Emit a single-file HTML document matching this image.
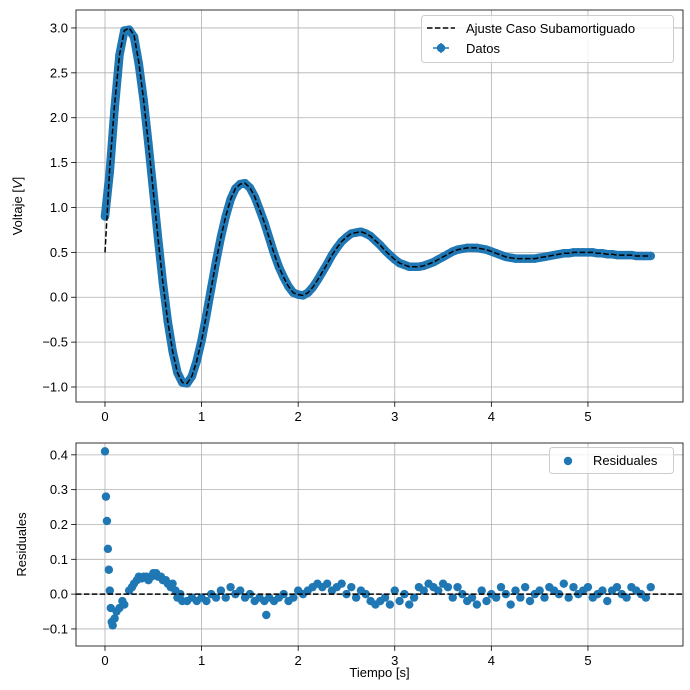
<!DOCTYPE html>
<html><head><meta charset="utf-8"><style>
html,body{margin:0;padding:0;background:#fff;}
svg{display:block;font-family:"Liberation Sans","DejaVu Sans",sans-serif;}
</style></head><body>
<svg id="chart" width="690" height="690" viewBox="0 0 690 690" xmlns="http://www.w3.org/2000/svg">
<g id="topPanel"></g>
<g id="botPanel"></g>
</svg>
<script>
// top panel data: time step 0.05 s
const tStep = 0.05;
const dataV = [0.90,1.40,2.10,2.70,2.97,2.98,2.90,2.60,2.20,1.71,1.18,0.65,0.16,-0.27,-0.60,-0.84,-0.95,-0.96,-0.88,-0.71,-0.48,-0.20,0.10,0.40,0.67,0.90,1.09,1.21,1.26,1.27,1.22,1.12,0.98,0.83,0.66,0.49,0.34,0.22,0.12,0.05,0.03,0.02,0.05,0.11,0.19,0.28,0.37,0.47,0.55,0.62,0.67,0.71,0.72,0.73,0.71,0.68,0.63,0.58,0.52,0.47,0.42,0.38,0.36,0.34,0.34,0.34,0.35,0.37,0.39,0.42,0.45,0.48,0.51,0.53,0.54,0.55,0.55,0.55,0.54,0.53,0.51,0.49,0.47,0.45,0.44,0.43,0.43,0.43,0.43,0.43,0.44,0.45,0.46,0.47,0.48,0.49,0.49,0.50,0.50,0.50,0.50,0.50,0.49,0.49,0.48,0.48,0.47,0.47,0.47,0.47,0.46,0.46,0.46,0.46];
const fitV = [0.50,1.45,2.15,2.70,2.97,3.00,2.92,2.62,2.20,1.71,1.18,0.65,0.16,-0.27,-0.60,-0.84,-0.95,-0.96,-0.88,-0.71,-0.48,-0.20,0.10,0.40,0.67,0.90,1.09,1.21,1.26,1.27,1.22,1.12,0.98,0.83,0.66,0.49,0.34,0.22,0.12,0.05,0.03,0.02,0.05,0.11,0.19,0.28,0.37,0.47,0.55,0.62,0.67,0.71,0.72,0.73,0.71,0.68,0.63,0.58,0.52,0.47,0.42,0.38,0.36,0.34,0.34,0.34,0.35,0.37,0.39,0.42,0.45,0.48,0.51,0.53,0.54,0.55,0.55,0.55,0.54,0.53,0.51,0.49,0.47,0.45,0.44,0.43,0.43,0.43,0.43,0.43,0.44,0.45,0.46,0.47,0.48,0.49,0.49,0.50,0.50,0.50,0.50,0.50,0.49,0.49,0.48,0.48,0.47,0.47,0.47,0.47,0.46,0.46,0.46,0.46];
// residuals
const resT = [0,0.01,0.02,0.03,0.04,0.05,0.06,0.07,0.08,0.10,0.12,0.15,0.18,0.20,0.25,0.28,0.30,0.33,0.35,0.38,0.40,0.43,0.45,0.48,0.50,0.53,0.55,0.58,0.60,0.63,0.65,0.68,0.70,0.73,0.75,0.78,0.80,0.85,0.90,0.95,1.00,1.05,1.10,1.15,1.20,1.25,1.30,1.35,1.40,1.45,1.50,1.55,1.60,1.65,1.67,1.70,1.75,1.80,1.85,1.90,1.95,2.00,2.05,2.10,2.15,2.20,2.25,2.30,2.35,2.40,2.45,2.50,2.55,2.60,2.65,2.70,2.75,2.80,2.85,2.90,2.95,3.00,3.05,3.10,3.15,3.20,3.25,3.30,3.35,3.40,3.45,3.50,3.55,3.60,3.65,3.70,3.75,3.80,3.85,3.90,3.95,4.00,4.05,4.10,4.15,4.20,4.25,4.30,4.35,4.40,4.45,4.50,4.55,4.60,4.65,4.70,4.75,4.80,4.85,4.90,4.95,5.00,5.05,5.10,5.15,5.20,5.25,5.30,5.35,5.40,5.45,5.50,5.55,5.60,5.65];
const resV = [0.41,0.28,0.21,0.13,0.07,0.01,-0.04,-0.08,-0.09,-0.07,-0.05,-0.04,-0.02,-0.03,0.01,0.02,0.03,0.04,0.05,0.045,0.05,0.05,0.04,0.05,0.06,0.06,0.05,0.05,0.04,0.04,0.03,0.02,0.03,0.01,-0.01,0.0,-0.02,-0.02,-0.01,-0.02,-0.01,-0.02,0.00,-0.01,0.01,-0.01,0.02,0.00,0.01,-0.01,0.00,-0.02,-0.01,-0.02,-0.06,-0.01,-0.02,-0.01,0.00,-0.02,-0.01,0.01,0.00,0.01,0.02,0.03,0.02,0.03,0.01,0.02,0.03,0.00,0.02,-0.01,0.01,0.00,-0.02,-0.03,-0.02,-0.01,-0.03,0.01,-0.02,0.00,-0.03,-0.01,0.02,0.01,0.03,0.02,0.01,0.03,0.02,-0.01,0.02,0.00,-0.02,-0.01,-0.03,0.01,-0.02,0.00,-0.01,0.02,0.00,-0.03,0.01,-0.01,0.02,-0.02,0.00,0.01,-0.01,0.02,0.01,0.00,0.03,-0.01,0.02,0.00,0.01,0.02,-0.01,0.00,0.01,-0.02,0.01,0.02,0.00,-0.01,0.02,0.01,0.00,-0.01,0.02,-0.02];
const xTicks = [0,1,2,3,4,5];
const yTopTicks = [-1.0,-0.5,0.0,0.5,1.0,1.5,2.0,2.5,3.0];
const yBotTicks = [-0.1,0.0,0.1,0.2,0.3,0.4];

const NS = "http://www.w3.org/2000/svg";
const X0 = 76, X1 = 683, XMIN = -0.30, XMAX = 5.984;
const sx = v => X0 + (v - XMIN) / (XMAX - XMIN) * (X1 - X0);
const PT = {y0:10, y1:402, min:-1.167, max:3.2};
const PB = {y0:443, y1:646, min:-0.149, max:0.434};
const sy = (p, v) => p.y1 - (v - p.min) / (p.max - p.min) * (p.y1 - p.y0);
const fmtTick = v => v.toFixed(1).replace("-", "\u2212");
function mk(tag, attrs, parent, text){
  const e = document.createElementNS(NS, tag);
  for (const k in attrs) e.setAttribute(k, attrs[k]);
  if (text !== undefined) e.textContent = text;
  parent.appendChild(e); return e;
}
const BLUE = "#1f77b4";

function axes(g, p, yTicks, ylabelX, ylabelHTML){
  const bg = mk("rect", {x:X0, y:p.y0, width:X1-X0, height:p.y1-p.y0, fill:"#fff"}, g);
  
  
  xTicks.forEach(v => {
    const x = sx(v);
    const gl = mk("line", {x1:x, x2:x, y1:p.y0, y2:p.y1, stroke:"#b0b0b0", "stroke-width":0.8}, g);
    
    
    mk("line", {x1:x, x2:x, y1:p.y1, y2:p.y1+4.9, stroke:"#000", "stroke-width":0.8}, g);
    const t = mk("text", {x:x, y:p.y1+19, "text-anchor":"middle", "font-size":13}, g, String(v));
    
    
  });
  yTicks.forEach(v => {
    const y = sy(p, v);
    const gl = mk("line", {x1:X0, x2:X1, y1:y, y2:y, stroke:"#b0b0b0", "stroke-width":0.8}, g);
    
    
    mk("line", {x1:X0-4.9, x2:X0, y1:y, y2:y, stroke:"#000", "stroke-width":0.8}, g);
    const t = mk("text", {x:X0-8, y:y+4.5, "text-anchor":"end", "font-size":13}, g, fmtTick(v));
    
    
  });
  const yl = mk("text", {x:0, y:0, "text-anchor":"middle", "font-size":13, transform:`translate(${ylabelX},${(p.y0+p.y1)/2}) rotate(-90)`}, g);
  yl.innerHTML = ylabelHTML;
  
  
}
function frame(g, p){
  const f = mk("rect", {x:X0, y:p.y0, width:X1-X0, height:p.y1-p.y0, fill:"none", stroke:"#000", "stroke-width":0.8}, g);
  
  
}

// ----- top panel -----
const topG = document.getElementById("topPanel");
axes(topG, PT, yTopTicks, 22, 'Voltaje [<tspan font-style="italic">V</tspan>]');
const bandPts = dataV.map((v,i) => sx(i*tStep).toFixed(1)+","+sy(PT,v).toFixed(1)).join(" ");
const band = mk("polyline", {points:bandPts, fill:"none", stroke:BLUE, "stroke-width":8.5, "stroke-linejoin":"round", "stroke-linecap":"round"}, topG);


dataV.forEach((v,i) => {
  const c = mk("circle", {cx:sx(i*tStep), cy:sy(PT,v), r:4.2, fill:BLUE}, topG);
  
  
});
const fitPts = fitV.map((v,i) => sx(i*tStep).toFixed(1)+","+sy(PT,v).toFixed(1)).join(" ");
const fit = mk("polyline", {points:fitPts, fill:"none", stroke:"#000", "stroke-width":1.5, "stroke-dasharray":"5.5,2.4"}, topG);


frame(topG, PT);
const lg = mk("g", {}, topG);


mk("rect", {x:421.5, y:15.5, width:252, height:47, rx:3, fill:"#fff", "fill-opacity":0.8, stroke:"#ccc", "stroke-width":1}, lg);
mk("line", {x1:427, x2:455, y1:28, y2:28, stroke:"#000", "stroke-width":1.5, "stroke-dasharray":"5.5,2.4"}, lg);
const l1 = mk("text", {x:466, y:33, "font-size":13}, lg, "Ajuste Caso Subamortiguado");


mk("line", {x1:433, x2:449, y1:48, y2:48, stroke:BLUE, "stroke-width":1.5}, lg);
mk("line", {x1:441, x2:441, y1:43, y2:53, stroke:BLUE, "stroke-width":1.5}, lg);
mk("circle", {cx:441, cy:48, r:4.2, fill:BLUE}, lg);
const l2 = mk("text", {x:466, y:53, "font-size":13}, lg, "Datos");



// ----- bottom panel -----
const botG = document.getElementById("botPanel");
axes(botG, PB, yBotTicks, 26, 'Residuales');
const nRes = Math.min(resT.length, resV.length);
for (let i = 0; i < nRes; i++) {
  const c = mk("circle", {cx:sx(resT[i]), cy:sy(PB,resV[i]), r:4.2, fill:BLUE}, botG);
  
  
}
const zl = mk("line", {x1:X0, x2:X1, y1:sy(PB,0), y2:sy(PB,0), stroke:"#000", "stroke-width":1.5, "stroke-dasharray":"5.5,2.4"}, botG);


frame(botG, PB);
const lg2 = mk("g", {}, botG);


mk("rect", {x:549.5, y:447.5, width:124, height:26, rx:3, fill:"#fff", "fill-opacity":0.8, stroke:"#ccc", "stroke-width":1}, lg2);
mk("circle", {cx:568, cy:461, r:4.2, fill:BLUE}, lg2);
const l3 = mk("text", {x:593, y:465, "font-size":13}, lg2, "Residuales");


const xt = mk("text", {x:(X0+X1)/2, y:677, "text-anchor":"middle", "font-size":13}, botG, "Tiempo [s]");


</script>
</body></html>
